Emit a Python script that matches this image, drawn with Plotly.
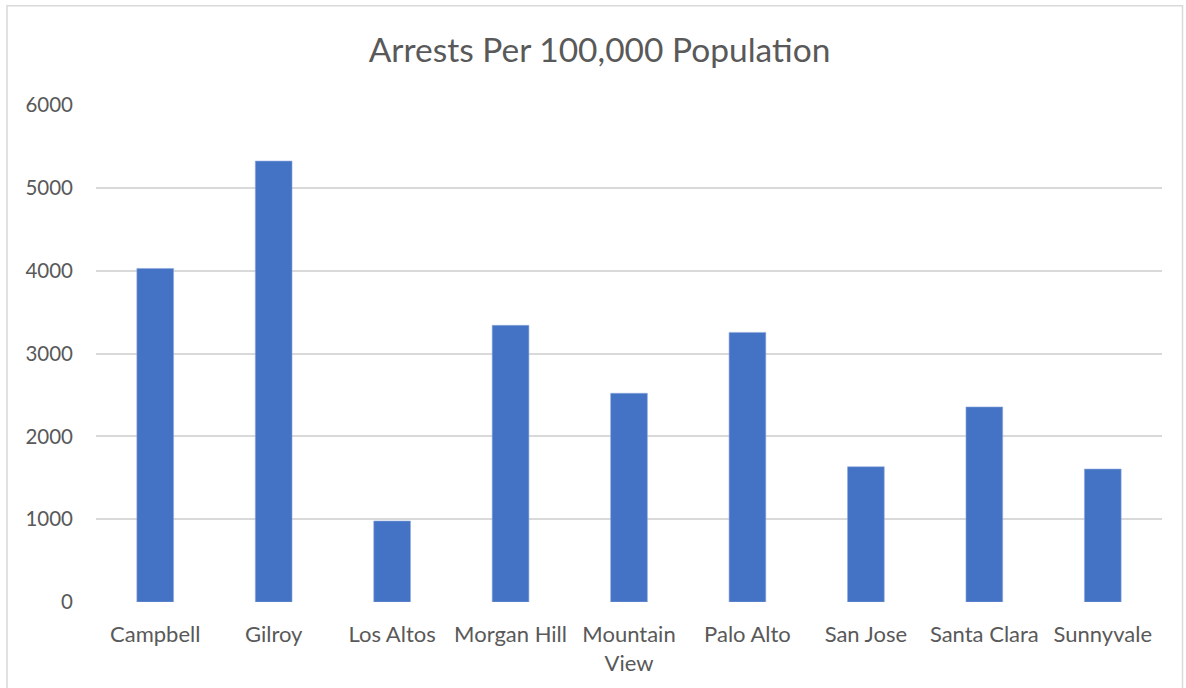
import plotly.graph_objects as go

cities = ["Campbell", "Gilroy", "Los Altos", "Morgan Hill", "Mountain<br>View",
          "Palo Alto", "San Jose", "Santa Clara", "Sunnyvale"]
arrests = [4027, 5323, 978, 3340, 2520, 3255, 1633, 2355, 1605]
y_ticks = [0, 1000, 2000, 3000, 4000, 5000, 6000]

W, H = 1186, 688
L, R, T, B = 96, 1186 - 1162, 104.5, 688 - 602.5
pw, ph = W - L - R, H - T - B

def px(x):
    return (x - L) / pw

def py(y):
    return (H - B - y) / ph

fig = go.Figure(go.Bar(
    x=cities, y=arrests,
    marker=dict(color="#4472C4", line=dict(color="#8FAADC", width=0.6)),
    width=0.31,
))

fig.update_layout(
    width=W, height=H,
    margin=dict(l=L, r=R, t=T, b=B, autoexpand=False),
    paper_bgcolor="white", plot_bgcolor="white",
    font=dict(family="Lato, Open Sans, sans-serif", color="#595959", size=20),
    title=dict(text="Arrests Per 100,000 Population", xref="container",
               x=599.5 / W, xanchor="center",
               y=1 - 50 / H, yanchor="middle",
               font=dict(size=33.5, color="#595959")),
    showlegend=False,
    shapes=[dict(type="rect", xref="paper", yref="paper",
                 x0=px(7), x1=px(1182.5), y0=py(700), y1=py(5),
                 line=dict(color="#D9D9D9", width=1.5), fillcolor="rgba(0,0,0,0)",
                 layer="below")],
)
fig.update_xaxes(showgrid=False, showline=False, zeroline=False, ticks="",
                 ticklabelstandoff=17, tickfont=dict(size=22, color="#595959"))
fig.update_yaxes(range=[0, 6000], tickvals=y_ticks, showgrid=True, gridcolor="#D9D9D9",
                 gridwidth=1.5, zeroline=False, showline=False, ticks="",
                 ticklabelstandoff=22, tickfont=dict(size=20.5, color="#595959"))

fig.write_html("out.html", config={"displayModeBar": False},
               post_script="document.body.style.margin='0';document.body.style.overflow='hidden';")
